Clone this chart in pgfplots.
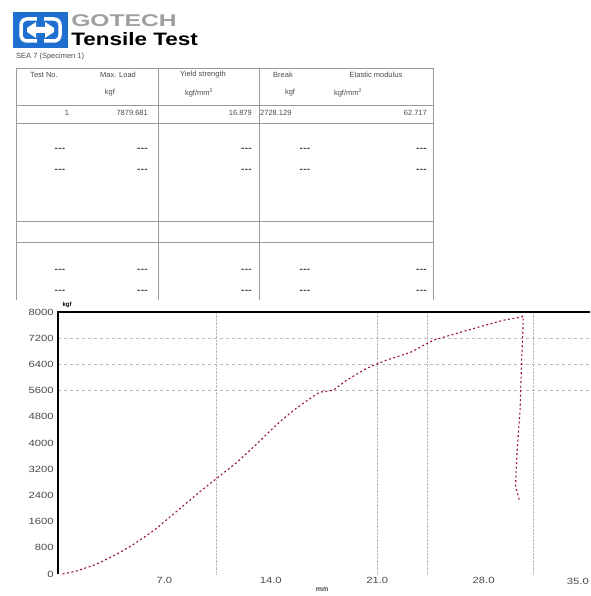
\documentclass[border=0pt]{standalone}
\usepackage{fontspec}
\setmainfont{Liberation Sans}
\usepackage{pgfplots}
\pgfplotsset{compat=1.18}
\definecolor{logoblue}{HTML}{1E6FD0}
\definecolor{curve}{HTML}{9A1236}
\definecolor{txt}{HTML}{4A4A4A}
\definecolor{rule}{HTML}{9A9A9A}
\newcommand{\nil}{{\fontsize{10}{10}\selectfont\textbf{-\kern0.3pt-\kern0.3pt-}}}

\begin{document}
\begin{tikzpicture}
\useasboundingbox (0,0) rectangle (590pt,-596pt);
\begin{scope}[x=1pt,y=-1pt]
% logo
\fill[logoblue] (13,12) rectangle (68,48);
\draw[white,line width=3.5pt,rounded corners=6pt] (21,19) rectangle (60,41);
\fill[logoblue] (37,15) rectangle (44,45);
\fill[white] (27,28) -- (36,22) -- (36,27) -- (45,27) -- (45,22) -- (54,28) -- (54,32) -- (45,38) -- (45,33) -- (36,33) -- (36,38) -- (27,32) -- cycle;
\node[anchor=west,inner sep=0,xscale=1.45,text=gray!75,font=\bfseries\fontsize{17}{17}\selectfont] at (71,21) {GOTECH};
\node[anchor=west,inner sep=0,xscale=1.25,font=\bfseries\fontsize{18}{18}\selectfont] at (71,39) {Tensile Test};
\node[anchor=west,inner sep=0,text=txt,font=\fontsize{7.5}{8}\selectfont] at (16,57) {SEA 7 (Specimen 1)};
% table
\draw[rule,line width=0.6pt] (16,68) -- (433,68);
\foreach \yy in {105,123,221,242} \draw[rule,line width=0.6pt] (16,\yy) -- (433,\yy);
\foreach \xx in {16,158,259,433} \draw[rule,line width=0.6pt] (\xx,68) -- (\xx,300);
\begin{scope}[every node/.style={inner sep=0,text=txt,font=\fontsize{7.5}{8}\selectfont}]
\node at (44,75) {Test No.};
\node at (118,75) {Max. Load};
\node at (203,75) {Yield strength};
\node at (283,75) {Break};
\node at (376,75) {Elastic modulus};
\node at (110,93) {kgf};
\node at (199,93) {kgf/mm\textsuperscript{2}};
\node at (290,93) {kgf};
\node at (348,93) {kgf/mm\textsuperscript{2}};
\node at (67,113) {1};
\node[anchor=east] at (148,113) {7879.681};
\node[anchor=east] at (252,113) {16.879};
\node[anchor=west] at (260,113) {2728.129};
\node[anchor=east] at (427,113) {62.717};
\foreach \yy in {150,171,271,292} {
  \node at (60,\yy) {\nil};
  \node[anchor=east] at (148,\yy) {\nil};
  \node[anchor=east] at (252,\yy) {\nil};
  \node at (305,\yy) {\nil};
  \node[anchor=east] at (427,\yy) {\nil};
}
\end{scope}
\node[inner sep=0,font=\bfseries\fontsize{6}{6}\selectfont] at (67,305) {kgf};
\node[inner sep=0,text=txt,font=\bfseries\fontsize{7}{7}\selectfont] at (322,590) {mm};
\node[anchor=east,inner sep=0,text=txt,xscale=1.25,font=\fontsize{9}{9}\selectfont] at (589,581) {35.0};
\end{scope}

\begin{axis}[
    at={(58pt,-574pt)}, anchor=south west,
    scale only axis, width=532pt, height=262pt,
    xmin=0, xmax=35, ymin=0, ymax=8000,
    xtick={7,14,21,28},
    ytick={0,800,...,8000},
    xticklabel style={/pgf/number format/.cd,fixed,fixed zerofill,precision=1},
    /pgf/number format/1000 sep={},
    /pgf/number format/assume math mode=true,
    axis line style={draw=none},
    tick style={draw=none},
    ticklabel style={font=\fontsize{9}{9}\selectfont, text=txt, xscale=1.25},
    extra y ticks={5600,6400,7200}, extra y tick labels={},
    extra y tick style={grid=major, major grid style={dashed,gray!55,line width=0.5pt}},
    extra x ticks={10.4,21,24.3,31.25}, extra x tick labels={},
    extra x tick style={grid=major, major grid style={densely dotted,gray!55,line width=0.5pt}},
    clip=false,
]
\addplot[curve, line width=1.1pt, dash pattern=on 2pt off 2.5pt] coordinates {
(0.3,0) (1.2,90) (2.4,275) (3.1,427) (4.0,640) (4.9,885) (5.7,1130) (6.5,1400)
(7.9,1950) (9.3,2500) (10.3,2870) (11.8,3420) (12.8,3850) (13.8,4300) (14.6,4650)
(15.5,5000) (16.4,5300) (17.2,5550) (18.1,5610) (19.0,5920) (20.3,6280) (21.6,6530)
(23.2,6770) (24.7,7140) (25.8,7290) (27.6,7530) (29.3,7750) (30.5,7850) (30.6,7880)
(30.6,7600) (30.5,6500) (30.4,5000) (30.2,3700) (30.1,2700) (30.35,2250)
};
\draw[black, line width=1.6pt] (rel axis cs:0,0) -- (rel axis cs:0,1) -- (rel axis cs:1,1);
\end{axis}
\end{tikzpicture}
\end{document}
